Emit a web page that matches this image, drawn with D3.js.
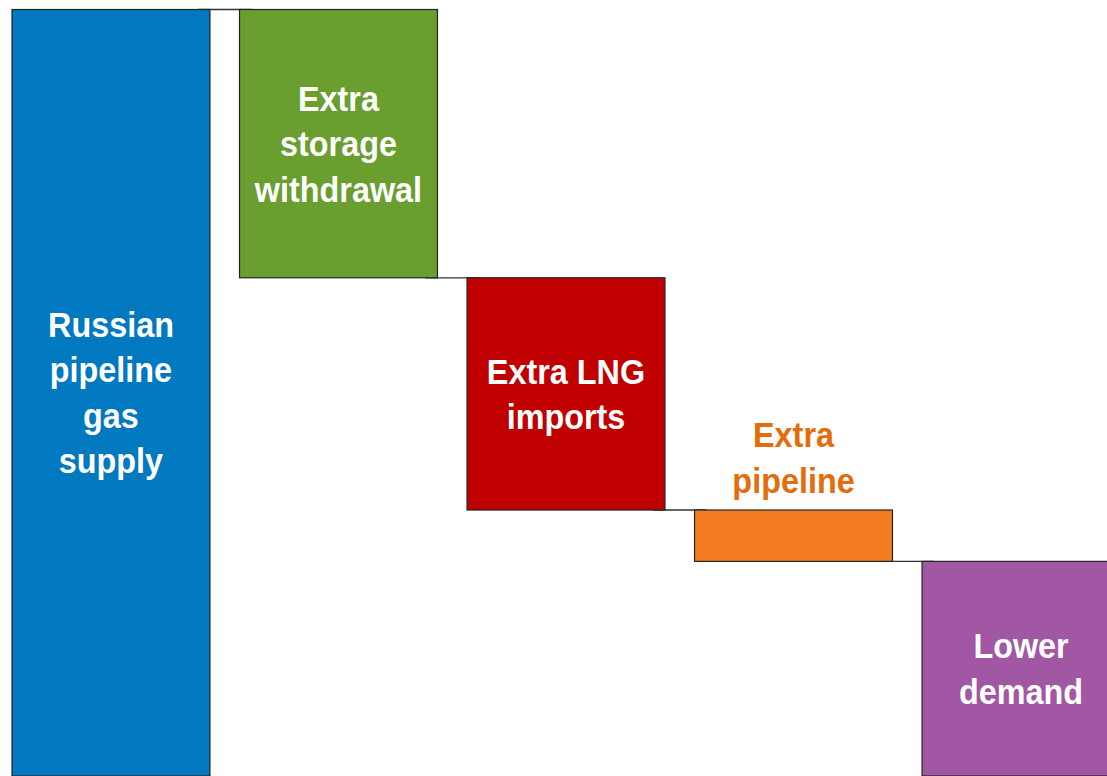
<!DOCTYPE html>
<html>
<head>
<meta charset="utf-8">
<script src="https://cdn.jsdelivr.net/npm/d3@7"></script>
<style>
  html, body { margin: 0; padding: 0; background: #fff; }
  svg { display: block; }
</style>
</head>
<body>
<svg id="chart" width="1107" height="776"></svg>
<script>
// Data
const categories = ["Russian pipeline gas supply", "Extra storage withdrawal", "Extra LNG imports", "Extra pipeline", "Lower demand"];
const labelLines = [["Russian", "pipeline", "gas", "supply"], ["Extra", "storage", "withdrawal"], ["Extra LNG", "imports"], ["Extra", "pipeline"], ["Lower", "demand"]];
const values = [100, -35, -30.3, -6.7, -28.0];
const colors = ["#0079C1", "#6A9E2F", "#C00000", "#F47B20", "#A157A4"];
const labelInside = [true, true, true, false, true];

const W = 1107, H = 776;
const svg = d3.select("#chart");

// compute waterfall segments
let run = 0;
const segs = values.map((v, i) => {
  let start, end;
  if (i === 0) { start = 0; end = v; run = v; }
  else { start = run; end = run + v; run = end; }
  return { cat: categories[i], lines: labelLines[i], start, end, color: colors[i], inside: labelInside[i] };
});

const x = d3.scaleBand().domain(categories).range([12, 1120]).paddingInner(0.13).paddingOuter(0);
const y = d3.scaleLinear().domain([0, 100]).range([776, 9.5]);

const g = svg.append("g");

// connectors
segs.forEach((s, i) => {
  if (i < segs.length - 1) {
    g.append("line")
      .attr("x1", x(s.cat) + x.bandwidth() - 12)
      .attr("x2", x(segs[i + 1].cat) + 12)
      .attr("y1", y(s.end)).attr("y2", y(s.end))
      .attr("stroke", "#333").attr("stroke-width", 1.3);
  }
});

// bars
g.selectAll("rect.bar").data(segs).enter().append("rect")
  .attr("class", "bar")
  .attr("x", d => x(d.cat))
  .attr("width", x.bandwidth())
  .attr("y", d => y(Math.max(d.start, d.end)))
  .attr("height", d => Math.abs(y(d.start) - y(d.end)))
  .attr("fill", d => d.color)
  .attr("stroke", "#222")
  .attr("stroke-width", 1.2);

// labels
const lineH = 45.5;
const fontSize = 35;
segs.forEach(s => {
  const cx = x(s.cat) + x.bandwidth() / 2;
  const top = y(Math.max(s.start, s.end));
  const bot = y(Math.min(s.start, s.end));
  let firstBase;
  if (s.inside) {
    const c = (top + bot) / 2;
    firstBase = c - (s.lines.length - 1) * lineH / 2 + 12.5;
  } else {
    firstBase = top - 17.5 - (s.lines.length - 1) * lineH;
  }
  const t = g.append("text")
    .attr("text-anchor", "middle")
    .attr("font-family", "'Liberation Sans', Arial, sans-serif")
    .attr("font-weight", "bold")
    .attr("font-size", fontSize)
    .attr("fill", s.inside ? "#ffffff" : "#E46C0A")
    .attr("transform", `translate(${cx},0) scale(0.925,1)`);
  s.lines.forEach((ln, k) => {
    t.append("tspan").attr("x", 0).attr("y", firstBase + k * lineH).text(ln);
  });
});
</script>
</body>
</html>
